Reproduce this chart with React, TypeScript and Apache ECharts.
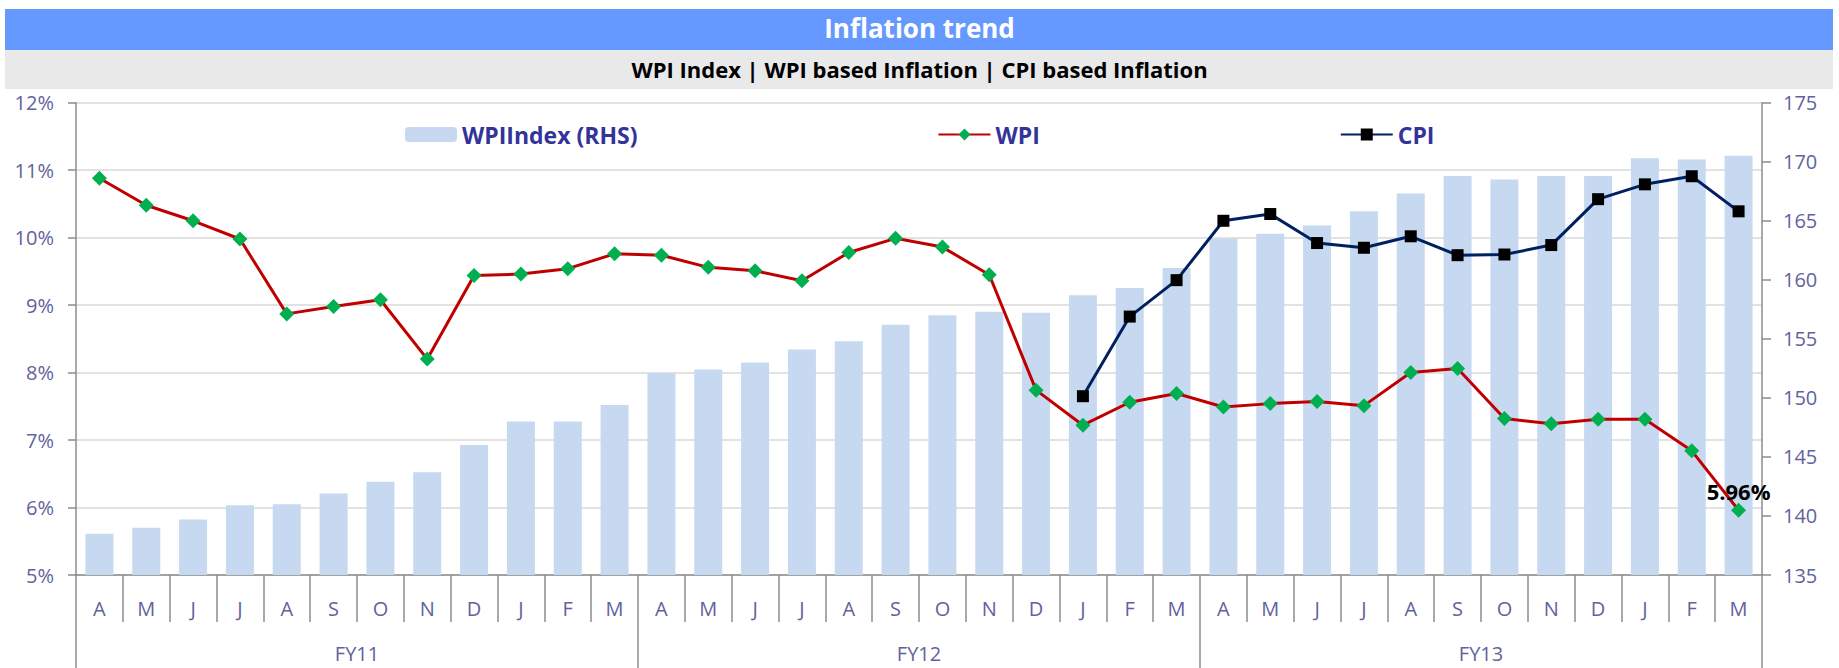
import React, { useEffect, useRef } from "react";
import * as echarts from "echarts";

const months = ["A", "M", "J", "J", "A", "S", "O", "N", "D", "J", "F", "M"];
const categories = [...months, ...months, ...months];
const fyLabels = ["FY11", "FY12", "FY13"];

const wpiIndex = [
  138.5, 139.0, 139.7, 140.9, 141.0, 141.9, 142.9, 143.7, 146.0, 148.0, 148.0, 149.4,
  152.1, 152.4, 153.0, 154.1, 154.8, 156.2, 157.0, 157.3, 157.2, 158.7, 159.3, 161.0,
  163.5, 163.9, 164.6, 165.8, 167.3, 168.8, 168.5, 168.8, 168.8, 170.3, 170.2, 170.5,
];

const wpi = [
  10.88, 10.48, 10.25, 9.98, 8.87, 8.98, 9.08, 8.2, 9.44, 9.46, 9.54, 9.76,
  9.74, 9.56, 9.51, 9.36, 9.78, 9.99, 9.86, 9.45, 7.74, 7.22, 7.56, 7.69,
  7.49, 7.54, 7.57, 7.51, 8.0, 8.06, 7.32, 7.24, 7.31, 7.31, 6.84, 5.96,
];

const cpi = [
  null, null, null, null, null, null, null, null, null, null, null, null,
  null, null, null, null, null, null, null, null, null, 7.65, 8.83, 9.37,
  10.25, 10.35, 9.92, 9.85, 10.02, 9.74, 9.75, 9.89, 10.57, 10.79, 10.91, 10.39,
];

const leftTicks = { min: 5, max: 12, interval: 1 };
const rightTicks = { min: 135, max: 175, interval: 5 };

const titleText = "Inflation trend";
const subtitleText = "WPI Index | WPI based Inflation | CPI based Inflation";

const FONT = "'Open Sans', sans-serif";
const AXIS_TEXT = "#62629c";
const AXIS_LINE = "#8c8c8c";

export default function App() {
  const ref = useRef<HTMLDivElement>(null);

  useEffect(() => {
    if (!ref.current) return;
    const chart = echarts.init(ref.current, undefined, { renderer: "svg" });
    const lastIdx = wpi.length - 1;
    const wpiData = wpi.map((v, i) =>
      i === lastIdx
        ? {
            value: v,
            label: {
              show: true,
              position: "top",
              distance: 1,
              formatter: `${v.toFixed(2)}%`,
              color: "#000",
              fontSize: 22,
              fontWeight: "bold",
              fontFamily: FONT,
            },
          }
        : v
    );

    chart.setOption({
      animation: false,
      textStyle: { fontFamily: FONT },
      title: [
        {
          text: titleText,
          left: "center",
          top: 15,
          padding: 0,
          textStyle: { color: "#ffffff", fontSize: 26, fontWeight: "bold", fontFamily: FONT },
        },
        {
          text: subtitleText,
          left: "center",
          top: 58,
          padding: 0,
          textStyle: { color: "#000000", fontSize: 22, fontWeight: "bold", fontFamily: FONT },
        },
      ],
      graphic: [
        {
          type: "rect",
          z: -10,
          shape: { x: 5, y: 9, width: 1828, height: 41 },
          style: { fill: "#6699ff" },
        },
        {
          type: "rect",
          z: -10,
          shape: { x: 5, y: 50, width: 1828, height: 39 },
          style: { fill: "#e9e9e9" },
        },
      ],
      legend: {
        left: 405,
        top: 123,
        padding: 0,
        itemGap: 300,
        itemWidth: 52,
        itemHeight: 15,
        textStyle: { color: "#333399", fontSize: 23, fontWeight: "bold", fontFamily: FONT },
        data: ["WPIIndex (RHS)", "WPI", "CPI"],
      },
      grid: { left: 76, right: 77, top: 102.7, bottom: 93, containLabel: false },
      xAxis: [
        {
          type: "category",
          data: categories,
          position: "bottom",
          axisLine: { show: true, lineStyle: { color: AXIS_LINE, width: 1.5 } },
          axisTick: { show: true, interval: 0, length: 47, lineStyle: { color: AXIS_LINE, width: 1.5 } },
          axisLabel: { interval: 0, margin: 23, color: AXIS_TEXT, fontSize: 20, fontFamily: FONT },
        },
        {
          type: "category",
          data: fyLabels,
          position: "bottom",
          offset: 47,
          axisLine: { show: false },
          axisTick: { show: true, interval: 0, length: 50, lineStyle: { color: AXIS_LINE, width: 1.5 } },
          axisLabel: { interval: 0, margin: 21, color: AXIS_TEXT, fontSize: 20, fontFamily: FONT },
        },
      ],
      yAxis: [
        {
          type: "value",
          position: "left",
          ...leftTicks,
          axisLine: { show: true, lineStyle: { color: AXIS_LINE, width: 1.5 } },
          axisTick: { show: true, length: 8, lineStyle: { color: AXIS_LINE, width: 1.5 } },
          axisLabel: { margin: 22, color: AXIS_TEXT, fontSize: 20, fontFamily: FONT, formatter: "{value}%" },
          splitLine: { show: true, lineStyle: { color: "#d9d9d9", width: 1.5 } },
        },
        {
          type: "value",
          position: "right",
          ...rightTicks,
          axisLine: { show: true, lineStyle: { color: AXIS_LINE, width: 1.5 } },
          axisTick: { show: true, length: 9, lineStyle: { color: AXIS_LINE, width: 1.5 } },
          axisLabel: { margin: 21, color: AXIS_TEXT, fontSize: 20, fontFamily: FONT },
          splitLine: { show: false },
        },
      ],
      series: [
        {
          name: "WPIIndex (RHS)",
          type: "bar",
          xAxisIndex: 0,
          yAxisIndex: 1,
          data: wpiIndex,
          barWidth: 28,
          itemStyle: { color: "#c6d9f1" },
          z: 1,
        },
        {
          name: "WPI",
          type: "line",
          xAxisIndex: 0,
          yAxisIndex: 0,
          data: wpiData,
          symbol: "diamond",
          symbolSize: 15,
          lineStyle: { color: "#c00000", width: 3 },
          itemStyle: { color: "#00b050" },
          z: 3,
        },
        {
          name: "CPI",
          type: "line",
          xAxisIndex: 0,
          yAxisIndex: 0,
          data: cpi,
          symbol: "rect",
          symbolSize: 12,
          lineStyle: { color: "#002060", width: 3 },
          itemStyle: { color: "#000000" },
          z: 4,
        },
      ],
    });

    return () => chart.dispose();
  }, []);

  return (
    <div
      ref={ref}
      style={{ position: "absolute", left: 0, top: 0, width: 1839, height: 668 }}
    />
  );
}
